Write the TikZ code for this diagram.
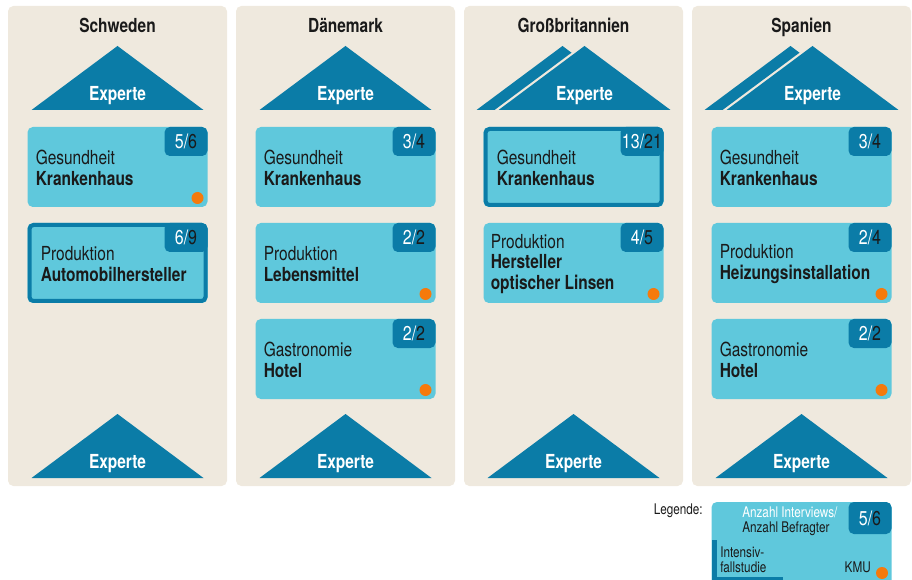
\documentclass[tikz,border=0pt]{standalone}
\usepackage{fontspec}
\setmainfont{TeX Gyre Heros}[FakeStretch=0.8]
\usetikzlibrary{positioning}

\definecolor{panelbg}{HTML}{EFE9DE}
\definecolor{casecyan}{HTML}{5FC8DC}
\definecolor{expblue}{HTML}{0B7CA7}
\definecolor{kmuorange}{HTML}{F57A0C}
\definecolor{inkdark}{HTML}{1A1A1A}

% case box: [text inset]{name}{x}{y}{numerator}{denominator}{text}
\newcommand{\casebox}[7][8]{%
  \fill[casecyan, rounded corners=4pt] (#3,#4) rectangle ++(180,80);
  \fill[expblue, rounded corners=4pt] (#3+137,#4) rectangle ++(43,29);
  \node[badge] (#2badge) at (#3+158.5,#4+14.5) {\textcolor{white}{#5/}#6};
  \node[casetext] (#2text) at (#3+#1,#4+41) {#7};
}

\begin{document}
\begin{tikzpicture}[x=0.75pt, y=-0.75pt,
  panel/.style={fill=panelbg, rounded corners=4pt},
  roof/.style={fill=expblue},
  country/.style={font=\bfseries\fontsize{14.5}{16}\selectfont, text=inkdark, inner sep=0pt, anchor=base},
  expert/.style={font=\bfseries\fontsize{14.5}{16}\selectfont, text=white, inner sep=0pt, anchor=base},
  casetext/.style={font=\fontsize{14.5}{15.5}\selectfont, text=inkdark, inner sep=0pt, anchor=west, align=left},
  badge/.style={font=\fontsize{15}{17}\selectfont, text=inkdark, inner sep=0pt},
  intensiv/.style={draw=expblue, line width=3pt, rounded corners=3pt},
  kmu/.style={circle, fill=kmuorange, inner sep=0pt, minimum size=9pt},
  legendtext/.style={font=\fontsize{11}{11.5}\selectfont, text=inkdark, inner sep=0pt},
]

\useasboundingbox (0,0) rectangle (912,580);

% Country panels with bottom roof
\foreach \i/\land/\titel in {0/SE/Schweden, 1/DK/Dänemark, 2/GB/Großbritannien, 3/ES/Spanien} {
  \fill[panel] (8+228*\i,6) rectangle ++(219,480);
  \node[country] (title\land) at (117.5+228*\i,33) {\titel};
  \fill[roof] (117.5+228*\i,414) -- ++(86,64) -- ++(-172,0) -- cycle;
  \node[expert] (expertB\land) at (117.5+228*\i,468) {Experte};
}

% Top roofs, single
\fill[roof] (117.5,46) -- ++(86,64) -- ++(-172,0) -- cycle;
\node[expert] (expertTSE) at (117.5,101) {Experte};
\fill[roof] (345.5,46) -- ++(86,64) -- ++(-172,0) -- cycle;
\node[expert] (expertTDK) at (345.5,101) {Experte};

% Top roofs, double
\fill[roof] (476.5,110) -- (562.5,46) -- (571.5,52.7) -- (494.5,110) -- cycle;
\fill[roof] (584.5,46) -- ++(86,64) -- ++(-172,0) -- cycle;
\node[expert] (expertTGB) at (584.5,101) {Experte};
\fill[roof] (704.5,110) -- (790.5,46) -- (799.5,52.7) -- (722.5,110) -- cycle;
\fill[roof] (812.5,46) -- ++(86,64) -- ++(-172,0) -- cycle;
\node[expert] (expertTES) at (812.5,101) {Experte};

% Schweden
\casebox{SE1}{27.5}{127}{5}{6}{Gesundheit\\\textbf{Krankenhaus}}
\node[kmu] (SE1dot) at (197.5,198) {};
\casebox[13]{SE2}{27.5}{223}{6}{9}{Produktion\\\textbf{Automobilhersteller}}
\draw[intensiv] (29.5,225) rectangle ++(176,76);

% Dänemark
\casebox{DK1}{255.5}{127}{3}{4}{Gesundheit\\\textbf{Krankenhaus}}
\casebox{DK2}{255.5}{223}{2}{2}{Produktion\\\textbf{Lebensmittel}}
\node[kmu] (DK2dot) at (425.5,294) {};
\casebox{DK3}{255.5}{319}{2}{2}{Gastronomie\\\textbf{Hotel}}
\node[kmu] (DK3dot) at (425.5,390) {};

% Großbritannien
\casebox[13]{GB1}{483.5}{127}{13}{21}{Gesundheit\\\textbf{Krankenhaus}}
\draw[intensiv] (485.5,129) rectangle ++(176,76);
\casebox[7]{GB2}{483.5}{223}{4}{5}{Produktion\\\textbf{Hersteller}\\\textbf{optischer Linsen}}
\node[kmu] (GB2dot) at (653.5,294) {};

% Spanien
\casebox{ES1}{711.5}{127}{3}{4}{Gesundheit\\\textbf{Krankenhaus}}
\casebox{ES2}{711.5}{223}{2}{4}{Produktion\\\textbf{Heizungsinstallation}}
\node[kmu] (ES2dot) at (881.5,294) {};
\casebox{ES3}{711.5}{319}{2}{2}{Gastronomie\\\textbf{Hotel}}
\node[kmu] (ES3dot) at (881.5,390) {};

% Legend
\node[legendtext, anchor=base east] (legende) at (703,514) {Legende:};
\fill[casecyan, rounded corners=4pt] (711.5,502) rectangle (891.5,590);
\fill[expblue, rounded corners=4pt] (848.5,502) rectangle (891.5,534);
\node[badge] (legbadge) at (870,518) {\textcolor{white}{5/}6};
\node[legendtext, text=white, anchor=base west] (leginterviews) at (742,517) {Anzahl Interviews/};
\node[legendtext, anchor=base west] (legbefragte) at (742,532) {Anzahl Befragter};
\fill[expblue] (711.5,540) rectangle (716.5,590);
\fill[expblue] (711.5,577) rectangle (783,590);
\node[legendtext, anchor=base west] (legintensiv) at (720,557) {Intensiv-};
\node[legendtext, anchor=base west] (legfallstudie) at (720,572) {fallstudie};
\node[legendtext, anchor=base east] (legkmu) at (871,572) {KMU};
\node[kmu] (legdot) at (882,573) {};

\end{tikzpicture}
\end{document}
